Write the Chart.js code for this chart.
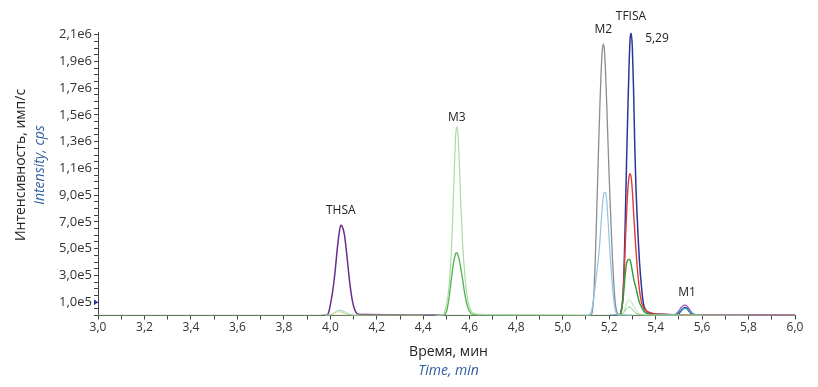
<!DOCTYPE html>
<html><head><meta charset="utf-8">
<script src="https://cdn.jsdelivr.net/npm/chart.js@4"></script>
<style>html,body{margin:0;background:#fff}</style>
</head><body>
<canvas id="c" width="818" height="387"></canvas>
<script>
// ---- Data (time, min / intensity, cps) ----
const xLabelValues = [3.0,3.2,3.4,3.6,3.8,4.0,4.2,4.4,4.6,4.8,5.0,5.2,5.4,5.6,5.8,6.0];
const xLabelText   = ['3,0','3,2','3,4','3,6','3,8','4,0','4,2','4,4','4,6','4,8','5,0','5,2','5,4','5,6','5,8','6,0'];
const yLabelValues = [1e5,3e5,5e5,7e5,9e5,1.1e6,1.3e6,1.5e6,1.7e6,1.9e6,2.1e6];
const yLabelText   = ['1,0e5','3,0e5','5,0e5','7,0e5','9,0e5','1,1e6','1,3e6','1,5e6','1,7e6','1,9e6','2,1e6'];

const peakNames = ['THSA','M3','M2','TFISA','5,29','M1'];
const peakTimes = [4.045,4.544,5.175,5.294,5.294,5.527];
const peakTops  = [6.75e5,14.1e5,20.3e5,21.1e5,21.1e5,0.78e5];

const baseline = [[3.0,0.02e5],[6.0,0.02e5]];

const thsaPurple = [[3.96,0],[3.98,0.01e5],[3.99,0.1e5],[4.00,0.8e5],[4.01,1.8e5],[4.02,3.2e5],[4.03,5.0e5],
  [4.04,6.4e5],[4.045,6.75e5],[4.05,6.7e5],[4.06,6.1e5],[4.07,4.7e5],[4.08,3.0e5],[4.09,1.6e5],[4.10,0.7e5],
  [4.11,0.25e5],[4.12,0.1e5],[4.15,0.07e5],[4.3,0.05e5],[4.45,0.03e5],[4.5,0.01e5]];
const thsaCyan = [[3.98,0],[4.00,0.05e5],[4.02,0.25e5],[4.04,0.4e5],[4.06,0.3e5],[4.08,0.12e5],[4.10,0.03e5],[4.13,0]];
const thsaYellow = [[3.98,0],[4.01,0.1e5],[4.03,0.28e5],[4.05,0.25e5],[4.07,0.12e5],[4.09,0.03e5],[4.12,0.01e5],[4.3,0.02e5],[4.4,0]];

const m3Light = [[4.45,0],[4.48,0.03e5],[4.49,0.2e5],[4.50,0.8e5],[4.51,2.0e5],[4.52,4.5e5],[4.525,6.5e5],
  [4.53,9.0e5],[4.535,11.6e5],[4.54,13.6e5],[4.545,14.1e5],[4.55,13.4e5],[4.555,11.5e5],[4.56,9.0e5],
  [4.565,7.0e5],[4.57,5.2e5],[4.58,2.8e5],[4.59,1.3e5],[4.60,0.6e5],[4.61,0.25e5],[4.63,0.1e5],
  [4.7,0.06e5],[4.9,0.04e5],[5.1,0.02e5]];
const m3Green = [[4.46,0],[4.49,0.05e5],[4.50,0.3e5],[4.51,1.2e5],[4.52,2.6e5],[4.53,3.9e5],[4.54,4.65e5],
  [4.545,4.7e5],[4.55,4.5e5],[4.56,3.7e5],[4.57,2.6e5],[4.58,1.5e5],[4.59,0.7e5],[4.60,0.3e5],[4.61,0.1e5],
  [4.65,0.04e5],[4.8,0.02e5]];

const m2Gray = [[5.10,0],[5.12,0.03e5],[5.125,0.1e5],[5.13,0.6e5],[5.135,1.8e5],[5.14,4.0e5],[5.145,6.8e5],
  [5.15,9.8e5],[5.155,12.8e5],[5.16,15.6e5],[5.165,18.0e5],[5.17,19.7e5],[5.175,20.3e5],[5.18,19.8e5],
  [5.185,18.0e5],[5.19,15.6e5],[5.195,13.0e5],[5.20,10.5e5],[5.205,8.2e5],[5.21,6.0e5],[5.215,4.0e5],
  [5.22,2.4e5],[5.225,1.2e5],[5.23,0.5e5],[5.235,0.2e5],[5.24,0.06e5],[5.27,0.03e5],[5.3,0]];
const m2Blue = [[5.10,0],[5.115,0.05e5],[5.12,0.15e5],[5.125,0.4e5],[5.13,0.9e5],[5.135,1.5e5],[5.14,2.2e5],
  [5.145,3.0e5],[5.15,3.7e5],[5.155,4.5e5],[5.16,5.5e5],[5.165,6.8e5],[5.17,8.0e5],[5.175,8.9e5],
  [5.18,9.2e5],[5.185,9.15e5],[5.19,8.5e5],[5.195,7.2e5],[5.20,5.7e5],[5.205,4.3e5],[5.21,3.1e5],
  [5.215,2.0e5],[5.22,1.1e5],[5.225,0.5e5],[5.23,0.2e5],[5.24,0.05e5],[5.3,0]];

const tfisaNavy = [[5.20,0],[5.245,0.03e5],[5.25,0.2e5],[5.26,1.6e5],[5.265,4.0e5],[5.27,7.5e5],[5.275,11.5e5],
  [5.28,15.0e5],[5.285,18.2e5],[5.29,20.6e5],[5.295,21.1e5],[5.30,20.0e5],[5.305,17.0e5],[5.31,13.0e5],
  [5.315,9.8e5],[5.32,7.6e5],[5.325,5.8e5],[5.33,4.2e5],[5.335,3.0e5],[5.34,2.0e5],[5.345,1.2e5],
  [5.35,0.7e5],[5.36,0.35e5],[5.37,0.2e5],[5.40,0.12e5],[5.45,0.08e5],[5.49,0.06e5],[5.50,0.15e5],
  [5.52,0.55e5],[5.53,0.6e5],[5.545,0.3e5],[5.56,0.08e5],[5.65,0.05e5],[6.0,0.02e5]];
const tfisaRed = [[5.24,0],[5.25,0.15e5],[5.26,1.5e5],[5.265,3.3e5],[5.27,5.5e5],[5.275,7.6e5],[5.28,9.3e5],
  [5.285,10.3e5],[5.29,10.6e5],[5.295,10.3e5],[5.30,9.3e5],[5.305,7.8e5],[5.31,6.4e5],[5.315,5.0e5],
  [5.32,3.8e5],[5.325,2.8e5],[5.33,2.0e5],[5.335,1.4e5],[5.34,0.95e5],[5.35,0.5e5],[5.36,0.35e5],
  [5.38,0.2e5],[5.42,0.1e5],[5.5,0.06e5],[5.6,0.04e5],[6.0,0.02e5]];
const tfisaGreen = [[5.24,0],[5.25,0.2e5],[5.26,1.2e5],[5.265,2.2e5],[5.27,3.2e5],[5.275,3.9e5],[5.28,4.15e5],
  [5.285,4.2e5],[5.29,4.15e5],[5.295,3.8e5],[5.30,3.3e5],[5.305,2.8e5],[5.31,2.4e5],[5.315,2.1e5],
  [5.32,1.7e5],[5.33,1.0e5],[5.34,0.6e5],[5.35,0.3e5],[5.37,0.1e5],[5.40,0.04e5],[5.5,0.02e5]];
const tfisaLight = [[5.24,0],[5.255,0.1e5],[5.265,0.4e5],[5.275,0.9e5],[5.285,1.2e5],[5.295,1.05e5],
  [5.305,0.7e5],[5.315,0.4e5],[5.33,0.15e5],[5.35,0.05e5],[5.4,0.02e5],[5.8,0.01e5]];
const tfisaMid = [[5.24,0],[5.26,0.15e5],[5.275,0.5e5],[5.285,0.65e5],[5.295,0.55e5],[5.31,0.25e5],
  [5.33,0.08e5],[5.36,0.02e5],[5.6,0.01e5]];

const m1Purple = [[5.40,0.03e5],[5.45,0.02e5],[5.48,0.05e5],[5.49,0.15e5],[5.50,0.35e5],[5.51,0.6e5],
  [5.52,0.76e5],[5.53,0.78e5],[5.54,0.6e5],[5.55,0.35e5],[5.56,0.15e5],[5.575,0.05e5],[5.6,0.03e5],[6.0,0.02e5]];
const m1Teal = [[5.45,0.01e5],[5.48,0.03e5],[5.49,0.1e5],[5.50,0.24e5],[5.51,0.4e5],[5.52,0.51e5],
  [5.53,0.53e5],[5.54,0.4e5],[5.55,0.22e5],[5.56,0.1e5],[5.575,0.03e5],[5.6,0.01e5]];

// ---- Traces (drawn back to front) ----
const traces = [
  {d: baseline,   c: '#9fd69a', w: 1},
  {d: thsaYellow, c: '#cfd86a', w: 1},
  {d: thsaCyan,   c: '#8fd3e0', w: 1},
  {d: m3Light,    c: '#a9dca3', w: 1.2},
  {d: m2Blue,     c: '#8cc4e8', w: 1.2},
  {d: m2Gray,     c: '#8c8c8c', w: 1.3},
  {d: tfisaLight, c: '#b3e0aa', w: 1},
  {d: tfisaMid,   c: '#7cc878', w: 1},
  {d: m1Teal,     c: '#2aa6b6', w: 1.2},
  {d: m1Purple,   c: '#a05ab8', w: 1.3},
  {d: tfisaGreen, c: '#2f9a3c', w: 1.4},
  {d: m3Green,    c: '#58b457', w: 1.4},
  {d: tfisaRed,   c: '#e33a3a', w: 1.4},
  {d: thsaPurple, c: '#6b2d8c', w: 1.5},
  {d: tfisaNavy,  c: '#27389a', w: 1.5}
];

const FONT = '"Open Sans", sans-serif';
const near = (a,b) => Math.abs(a-b) < 1e-6*Math.max(1,Math.abs(b));

// ---- Titles, peak labels, marker ----
const labelOffsets = [[0,-15],[0,-9],[0,-14],[0,-17],[26,5],[2,-12]];
const extras = {
  id: 'extras',
  afterDraw(chart){
    const ctx = chart.ctx, xs = chart.scales.x, ys = chart.scales.y;
    ctx.save();
    ctx.textAlign = 'center';
    ctx.textBaseline = 'middle';
    // peak labels
    ctx.fillStyle = '#222';
    ctx.font = '12px ' + FONT;
    peakNames.forEach((n,i)=>{
      const px = xs.getPixelForValue(peakTimes[i]) + labelOffsets[i][0];
      const py = ys.getPixelForValue(peakTops[i]) + labelOffsets[i][1];
      ctx.fillText(n, px, py);
    });
    // x axis title
    const cx = (chart.chartArea.left + chart.chartArea.right)/2 + 2;
    ctx.font = '14px ' + FONT;
    ctx.fillStyle = '#222';
    ctx.fillText('Время, мин', cx, 352);
    ctx.font = 'italic 14px ' + FONT;
    ctx.fillStyle = '#2f5d9e';
    ctx.fillText('Time, min', cx, 371);
    // y axis title
    ctx.save();
    ctx.translate(0, 165);
    ctx.rotate(-Math.PI/2);
    ctx.font = '14px ' + FONT;
    ctx.fillStyle = '#222';
    ctx.fillText('Интенсивность, имп/с', 0, 21);
    ctx.font = 'italic 14px ' + FONT;
    ctx.fillStyle = '#2f5d9e';
    ctx.fillText('Intensity, cps', 0, 40);
    ctx.restore();
    // small marker at 1,0e5
    const my = ys.getPixelForValue(1e5), mx = chart.chartArea.left;
    ctx.fillStyle = '#27389a';
    ctx.beginPath();
    ctx.moveTo(mx-4, my-3); ctx.lineTo(mx, my); ctx.lineTo(mx-4, my+3);
    ctx.closePath(); ctx.fill();
    ctx.restore();
  }
};

new Chart(document.getElementById('c'), {
  type: 'line',
  data: {
    datasets: traces.map(t=>({
      data: t.d.map(p=>({x:p[0], y:p[1]})),
      borderColor: t.c,
      borderWidth: t.w,
      pointRadius: 0,
      fill: false,
      cubicInterpolationMode: 'monotone'
    }))
  },
  options: {
    responsive: false,
    animation: false,
    events: [],
    layout: {padding: {left: 0, right: 23, top: 32, bottom: 0}},
    plugins: {legend: {display: false}, tooltip: {enabled: false}},
    scales: {
      x: {
        type: 'linear', min: 3.0, max: 6.0,
        afterFit: s => { s.height = 71.5; },
        afterBuildTicks: s => {
          const t = [];
          for (let i = 0; i <= 30; i++) t.push({value: +(3 + i*0.1).toFixed(1)});
          s.ticks = t;
        },
        ticks: {
          autoSkip: false, maxRotation: 0, padding: 1,
          color: '#333', font: {family: FONT, size: 12},
          callback: v => { const i = xLabelValues.findIndex(a=>near(a,v)); return i<0 ? '' : xLabelText[i]; }
        },
        grid: {drawOnChartArea: false, tickLength: 4, color: '#444'},
        border: {color: '#444'}
      },
      y: {
        type: 'linear', min: 0, max: 2.12e6,
        afterFit: s => { s.width = 98; },
        afterBuildTicks: s => {
          const t = [];
          for (let i = 0; i <= 42; i++) t.push({value: i*0.5e5});
          s.ticks = t;
        },
        ticks: {
          autoSkip: false, padding: 2,
          color: '#333', font: {family: FONT, size: 13},
          callback: v => { const i = yLabelValues.findIndex(a=>near(a,v)); return i<0 ? '' : yLabelText[i]; }
        },
        grid: {drawOnChartArea: false, tickLength: 4, color: '#444'},
        border: {color: '#444'}
      }
    }
  },
  plugins: [extras]
});
</script>
</body></html>
